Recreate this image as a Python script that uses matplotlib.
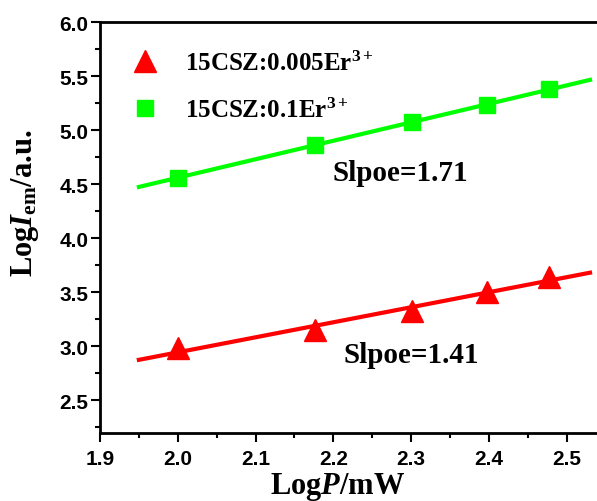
import numpy as np
import matplotlib
matplotlib.use("Agg")
import matplotlib.pyplot as plt
from matplotlib.ticker import MultipleLocator

# data
log_p = [2.0, 2.176, 2.301, 2.398, 2.477]
red_vals = [2.98, 3.15, 3.33, 3.50, 3.64]
green_vals = [4.56, 4.86, 5.08, 5.23, 5.38]
labels = [r'15CSZ:0.005Er$^{3+}$', r'15CSZ:0.1Er$^{3+}$']
slope_texts = ['Slpoe=1.41', 'Slpoe=1.71']
fit_range = [1.95, 2.53]

plt.rcParams['mathtext.fontset'] = 'custom'
plt.rcParams['mathtext.rm'] = 'Liberation Serif:bold'
plt.rcParams['mathtext.it'] = 'Liberation Serif:bold:italic'
plt.rcParams['mathtext.bf'] = 'Liberation Serif:bold'

fig = plt.figure(figsize=(5.97, 5.02), dpi=100)
ax = fig.add_axes([0.1675, 0.136, 0.8325, 0.818])

red = '#ff0000'
green = '#00ff00'

xf = np.array(fit_range)
for vals, col in [(red_vals, red), (green_vals, green)]:
    k, b = np.polyfit(log_p, vals, 1)
    ax.plot(xf, k * xf + b, color=col, lw=3, zorder=2)

ax.plot(log_p, red_vals, ls='none', marker='^', ms=16, color=red, mec=red, label=labels[0], zorder=3)
ax.plot(log_p, green_vals, ls='none', marker='s', ms=12, color=green, mec=green, label=labels[1], zorder=3)

ax.set_xlim(1.9, 2.539)
ax.set_ylim(2.2, 6.0)
ax.xaxis.set_major_locator(MultipleLocator(0.1))
ax.xaxis.set_minor_locator(MultipleLocator(0.05))
ax.yaxis.set_major_locator(MultipleLocator(0.5))
ax.yaxis.set_minor_locator(MultipleLocator(0.25))
ax.tick_params(which='both', direction='out', width=1.5, top=False, right=False)
ax.tick_params(which='major', length=6.5, labelsize=15)
ax.tick_params(axis='x', which='major', pad=5)
ax.tick_params(axis='y', which='major', pad=2)
ax.tick_params(which='minor', length=3.5)
for lab in ax.get_xticklabels() + ax.get_yticklabels():
    lab.set_fontfamily('Liberation Sans')
    lab.set_fontweight('bold')

for s in ['left', 'bottom', 'top']:
    ax.spines[s].set_linewidth(2)
ax.spines['right'].set_visible(False)

ax.set_xlabel(r'Log$P$/mW', fontfamily='Liberation Serif', fontweight='bold', fontsize=22)
ax.set_ylabel(r'Log$I_{\rm em}$/a.u.', fontfamily='Liberation Serif', fontweight='bold', fontsize=22)
ax.xaxis.set_label_coords(0.479, -0.09)
ax.yaxis.set_label_coords(-0.118, 0.562)

ax.text(2.2136, 2.851, slope_texts[0], fontfamily='Liberation Serif', fontweight='bold', fontsize=21)
ax.text(2.1995, 4.536, slope_texts[1], fontfamily='Liberation Serif', fontweight='bold', fontsize=21)

leg = ax.legend(loc='upper left', bbox_to_anchor=(0.06, 0.93), frameon=False,
                prop={'family': 'Liberation Serif', 'weight': 'bold', 'size': 18},
                handlelength=1.2, handletextpad=1.0, labelspacing=0.9,
                borderpad=0, borderaxespad=0, numpoints=1)

fig.savefig('out.png', dpi=100)
